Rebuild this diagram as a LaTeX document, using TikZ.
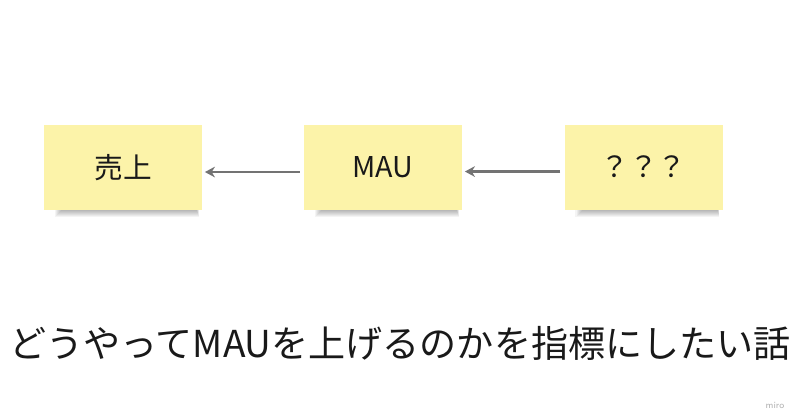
\documentclass[tikz,border=0pt]{standalone}
\usepackage{fontspec}
\newfontfamily\jp{Noto Sans CJK JP}
\usetikzlibrary{arrows.meta}
\definecolor{sticky}{HTML}{FCF3A9}
\definecolor{arrowgray}{HTML}{737373}
\tikzset{
  note/.style={fill=sticky, draw=none, minimum width=118.5pt, minimum height=63.75pt, inner sep=0pt, font=\jp\fontsize{21.5}{24}\selectfont, text=black!90},
  ghost/.style={minimum width=118.5pt, minimum height=63.75pt, inner sep=0pt, draw=none},
  conn/.style={draw=arrowgray, line width=1.6pt, -{Stealth[length=7.5pt,width=8pt]}},
}
\newcommand{\shadowunder}[1]{%
  \foreach \k in {1,...,7}{
    \fill[black, opacity=0.045] ([xshift={14pt-\k*0.8pt}, yshift={-\k*0.75pt}]#1.south west) rectangle ([xshift={-4pt+\k*0.2pt}, yshift=6pt]#1.south east);
  }
}
\begin{document}
\begin{tikzpicture}[x=0.75pt,y=-0.75pt]
\useasboundingbox (0,0) rectangle (800,419);
\fill[white] (0,0) rectangle (800,419);
% shadows
\node[ghost] (g1) at (123,167.5) {};
\node[ghost] (g2) at (383,167.5) {};
\node[ghost] (g3) at (643.5,167) {};
\shadowunder{g1}
\shadowunder{g2}
\shadowunder{g3}
\node[note] (n1) at (123,167.5) {売上};
\node[note] (n2) at (383,167.5) {MAU};
\node[note] (n3) at (643.5,167) {？？？};
\coordinate (a2) at ([xshift=-3pt,yshift=-3.4pt]n2.west);
\coordinate (a3) at ([xshift=-3pt,yshift=-3.4pt]n3.west);
\draw[conn] (a2) -- ([xshift=2pt]n1.east |- a2);
\draw[conn] (a3) -- ([xshift=2pt]n2.east |- a3);
\node[font=\jp\fontsize{27.8}{30}\selectfont, text=black!90] (title) at (400,343) {どうやってMAUを上げるのかを指標にしたい話};
\node[font=\sffamily\fontsize{7}{8}\selectfont, text=black!30] (miro) at (775,405) {miro};
\end{tikzpicture}
\end{document}
